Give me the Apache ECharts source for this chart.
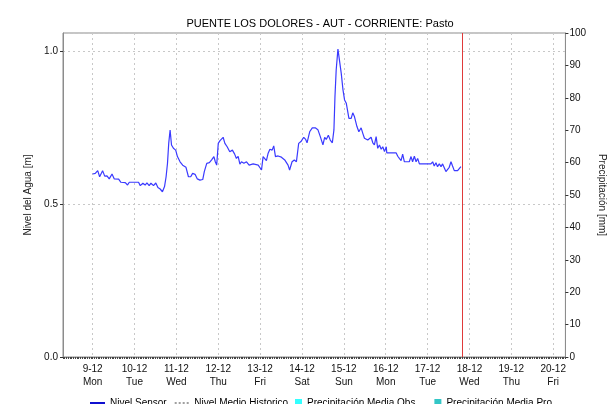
<!DOCTYPE html>
<html>
<head>
<meta charset="utf-8">
<script src="https://cdn.jsdelivr.net/npm/echarts@6/dist/echarts.min.js"></script>
<style>html,body{margin:0;padding:0;background:#fff;}#chart{width:615px;height:404px;}</style>
</head>
<body>
<div id="chart"></div>
<script>
// Title and axis texts
const chartTitle = 'PUENTE LOS DOLORES - AUT - CORRIENTE: Pasto';
const leftAxisName = 'Nivel del Agua [m]';
const rightAxisName = 'Precipitación [mm]';
const seriesNames = ['Nivel Sensor', 'Nivel Medio Historico', 'Precipitación Media Obs', 'Precipitación Media Pro'];
const weekdays = ['Sun', 'Mon', 'Tue', 'Wed', 'Thu', 'Fri', 'Sat'];

// Time reference: hours counted from 9-12-2024 00:00
const baseYear = 2024, baseMonth = 11, baseDay = 9;
const axisStartHour = -17;   // 8-12 07:00
const axisEndHour = 271;     // 20-12 07:00
const nowHour = 211.8;       // red vertical line
const minorTickHours = 1;    // small ticks along the time axis

// Nivel Sensor: hours since base, level [m]
const sensorHours = [
  0.0, 1.5, 2.9, 4.0, 5.7, 6.9, 8.2, 9.5, 11.1, 12.4, 14.9, 16.2, 18.7, 20.0, 21.0, 26.3, 27.3, 28.8, 30.1, 31.1,
  32.4, 33.4, 34.9, 36.2, 37.4, 38.7, 40.0, 41.2, 42.1, 42.9, 43.6, 44.4, 45.2, 46.3, 47.6, 48.6, 50.1, 51.6, 53.5, 54.9,
  56.2, 57.3, 58.7, 60.0, 61.5, 63.1, 64.0, 65.4, 66.9, 68.2, 69.5, 70.3, 71.1, 72.0, 73.0, 73.9, 74.8, 75.8, 77.1, 78.6,
  80.1, 81.4, 82.4, 83.4, 84.4, 85.3, 86.7, 88.2, 89.7, 92.0, 94.9, 95.8, 96.8, 97.7, 98.7, 99.6, 100.6, 101.6, 102.9, 103.8,
  104.8, 106.3, 108.2, 110.1, 112.0, 112.9, 114.3, 115.6, 116.8, 118.1, 119.4, 121.0, 122.1, 122.9, 124.4, 125.9, 127.6, 129.1, 130.5, 132.0,
  133.0, 133.9, 135.1, 136.2, 137.4, 138.3, 138.9, 139.6, 140.6, 141.2, 142.5, 143.5, 144.4, 145.4, 146.3, 146.9, 148.2, 149.1, 150.1, 151.5,
  152.6, 153.9, 154.9, 155.8, 157.7, 158.7, 159.6, 160.6, 161.5, 162.5, 163.4, 164.4, 165.4, 166.3, 167.3, 168.3, 168.6, 174.0, 174.9, 175.8,
  176.8, 177.7, 178.7, 181.5, 182.5, 183.4, 184.4, 185.4, 186.3, 187.3, 193.9, 194.9, 195.8, 196.8, 197.7, 198.7, 199.7, 200.6, 201.5, 202.5,
  203.4, 204.4, 205.4, 206.3, 207.3, 209.2, 210.1, 211.1
];
const sensorLevels = [
  0.598, 0.600, 0.609, 0.589, 0.609, 0.591, 0.592, 0.582, 0.598, 0.582, 0.581, 0.571, 0.570, 0.562, 0.571, 0.571, 0.560, 0.568, 0.562, 0.569,
  0.560, 0.568, 0.560, 0.569, 0.554, 0.549, 0.540, 0.557, 0.589, 0.633, 0.698, 0.742, 0.693, 0.682, 0.676, 0.655, 0.638, 0.627, 0.620, 0.589,
  0.589, 0.600, 0.597, 0.582, 0.578, 0.580, 0.606, 0.633, 0.635, 0.644, 0.655, 0.638, 0.627, 0.698, 0.707, 0.703, 0.718, 0.698, 0.687, 0.671,
  0.676, 0.663, 0.649, 0.656, 0.630, 0.638, 0.633, 0.638, 0.627, 0.631, 0.627, 0.625, 0.611, 0.655, 0.649, 0.642, 0.666, 0.679, 0.676, 0.690,
  0.655, 0.657, 0.653, 0.644, 0.627, 0.611, 0.638, 0.644, 0.638, 0.698, 0.704, 0.718, 0.711, 0.700, 0.736, 0.749, 0.749, 0.743, 0.720, 0.693,
  0.718, 0.711, 0.725, 0.709, 0.700, 0.742, 0.851, 0.938, 1.006, 1.002, 0.927, 0.873, 0.840, 0.829, 0.827, 0.780, 0.780, 0.798, 0.785, 0.753,
  0.736, 0.749, 0.730, 0.715, 0.709, 0.704, 0.718, 0.700, 0.693, 0.720, 0.682, 0.693, 0.679, 0.687, 0.671, 0.687, 0.667, 0.667, 0.656, 0.649,
  0.642, 0.663, 0.638, 0.638, 0.655, 0.638, 0.656, 0.638, 0.649, 0.631, 0.631, 0.638, 0.624, 0.635, 0.622, 0.631, 0.622, 0.631, 0.627, 0.606,
  0.600, 0.620, 0.638, 0.624, 0.609, 0.609, 0.611, 0.622
];

// Axis ranges / ticks
const leftMin = 0, leftMax = 1.0588, leftInterval = 0.5;
const rightMin = 0, rightMax = 100, rightInterval = 10;

const HOUR = 3600000;
const baseTime = Date.UTC(baseYear, baseMonth, baseDay);
const toTime = h => baseTime + h * HOUR;
const sensorData = sensorHours.map((h, i) => [toTime(h), sensorLevels[i]]);

const font = 'Liberation Sans, Arial, sans-serif';
const axisGray = '#8c8c8c';
const gridGray = '#c8c8c8';
const legendText = {fontSize: 10, color: '#000', fontFamily: font};

const chart = echarts.init(document.getElementById('chart'), null, {renderer: 'canvas'});
chart.setOption({
  useUTC: true,
  animation: false,
  backgroundColor: '#ffffff',
  textStyle: {fontFamily: font},
  title: {
    text: chartTitle,
    left: 315, textAlign: 'center', top: 13,
    textStyle: {fontSize: 11, fontWeight: 'normal', color: '#000', fontFamily: font}
  },
  grid: {left: 63, right: 48, top: 33, bottom: 47, show: true, borderColor: axisGray, borderWidth: 1, backgroundColor: 'transparent'},
  legend: [
    {
      data: [
        {name: seriesNames[0], icon: 'rect', itemStyle: {color: '#1010d0'}},
        {name: seriesNames[1], icon: 'path://M0,0H2V2H0Z M4,0H6V2H4Z M8,0H10V2H8Z M12,0H14V2H12Z', itemStyle: {color: '#a0a0a0'}}
      ],
      left: 85, top: 393, itemWidth: 15, itemHeight: 2, itemGap: 8,
      textStyle: legendText
    },
    {
      data: [seriesNames[2], seriesNames[3]],
      left: 290, top: 393, itemWidth: 7, itemHeight: 8, itemGap: 19, icon: 'rect',
      textStyle: legendText
    }
  ],
  xAxis: [
    {
      type: 'time',
      min: toTime(axisStartHour), max: toTime(axisEndHour),
      minInterval: 24 * HOUR, maxInterval: 24 * HOUR, splitNumber: 12,
      axisLine: {show: true, onZero: false, lineStyle: {color: axisGray, width: 1}},
      axisTick: {show: false},
      splitLine: {show: true, lineStyle: {color: gridGray, type: [2, 3], width: 1}},
      axisLabel: {
        showMinLabel: false, showMaxLabel: false,
        fontSize: 10, color: '#111', margin: 6, lineHeight: 13, fontFamily: font,
        formatter: v => {
          const d = new Date(v);
          return d.getUTCDate() + '-' + (d.getUTCMonth() + 1) + '\n' + weekdays[d.getUTCDay()];
        }
      }
    },
    {
      type: 'value', position: 'bottom',
      min: axisStartHour, max: axisEndHour, interval: minorTickHours,
      axisLine: {show: false, onZero: false},
      axisTick: {show: true, length: 2, lineStyle: {color: '#444', width: 1}},
      axisLabel: {show: false},
      splitLine: {show: false}
    }
  ],
  yAxis: [
    {
      type: 'value', position: 'left',
      min: leftMin, max: leftMax, interval: leftInterval,
      name: leftAxisName, nameLocation: 'middle', nameGap: 26, nameRotate: 90,
      nameTextStyle: {fontSize: 10, color: '#222', fontFamily: font},
      axisLine: {show: true, onZero: false, lineStyle: {color: axisGray, width: 1}},
      axisTick: {show: true, length: 3, lineStyle: {color: '#333'}},
      splitLine: {show: true, lineStyle: {color: gridGray, type: [2, 3]}},
      axisLabel: {showMaxLabel: false, fontSize: 10, color: '#111', margin: 5, formatter: v => v.toFixed(1)}
    },
    {
      type: 'value', position: 'right',
      min: rightMin, max: rightMax, interval: rightInterval,
      name: rightAxisName, nameLocation: 'middle', nameGap: 24, nameRotate: -90,
      nameTextStyle: {fontSize: 10, color: '#222', fontFamily: font},
      axisLine: {show: true, onZero: false, lineStyle: {color: axisGray, width: 1}},
      axisTick: {show: true, length: 3, lineStyle: {color: '#333'}},
      splitLine: {show: false},
      axisLabel: {fontSize: 10, color: '#111', margin: 4}
    }
  ],
  series: [
    {
      name: seriesNames[0], type: 'line', xAxisIndex: 0, yAxisIndex: 0, data: sensorData,
      showSymbol: false, symbol: 'none', color: '#3a3aff',
      lineStyle: {color: '#3a3aff', width: 1.2},
      markLine: {
        silent: true, symbol: 'none', label: {show: false},
        lineStyle: {color: '#e03a3a', width: 1, type: 'solid'},
        data: [{xAxis: toTime(nowHour)}]
      }
    },
    {
      name: seriesNames[1], type: 'line', xAxisIndex: 0, yAxisIndex: 0, data: [],
      showSymbol: false, symbol: 'none', color: '#a0a0a0',
      lineStyle: {color: '#a0a0a0', width: 1, type: [2, 3]}
    },
    {name: seriesNames[2], type: 'line', xAxisIndex: 0, yAxisIndex: 1, data: [], symbol: 'none', color: '#33ffff', itemStyle: {color: '#33ffff'}, lineStyle: {color: '#33ffff'}},
    {name: seriesNames[3], type: 'line', xAxisIndex: 0, yAxisIndex: 1, data: [], symbol: 'none', color: '#33c6c6', itemStyle: {color: '#33c6c6'}, lineStyle: {color: '#33c6c6'}}
  ]
});
</script>
</body>
</html>
